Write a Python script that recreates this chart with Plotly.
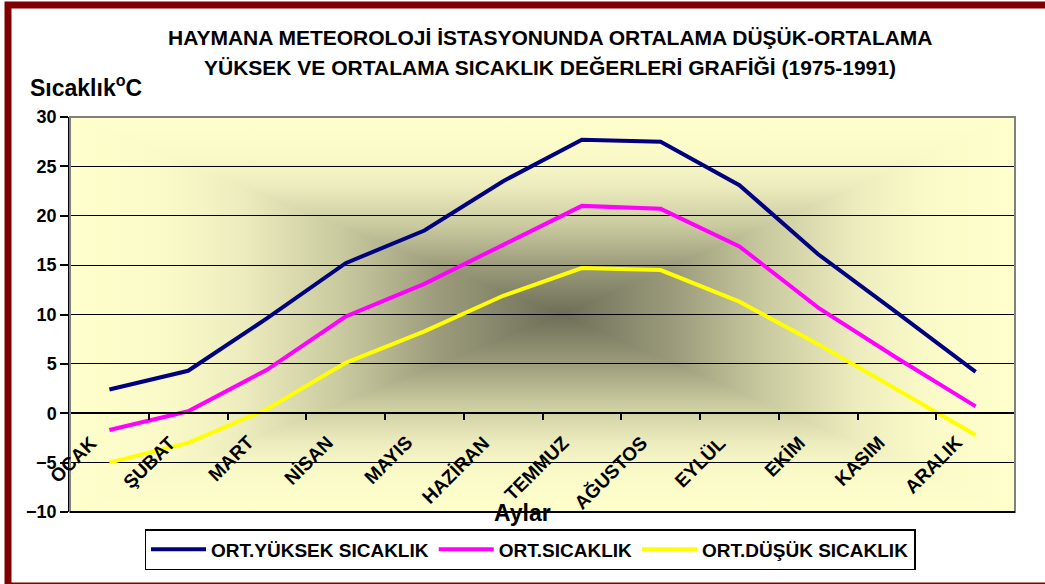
import base64
import plotly.graph_objects as go

# ---- data ----
months = ["OCAK", "ŞUBAT", "MART", "NİSAN", "MAYIS", "HAZİRAN",
          "TEMMUZ", "AĞUSTOS", "EYLÜL", "EKİM", "KASIM", "ARALIK"]
ort_yuksek = [2.4, 4.3, 9.6, 15.2, 18.5, 23.5, 27.7, 27.5, 23.1, 16.1, 10.2, 4.2]
ort_sicaklik = [-1.7, 0.2, 4.4, 9.8, 13.1, 17.1, 21.0, 20.7, 16.9, 10.7, 5.6, 0.7]
ort_dusuk = [-5.0, -3.0, 0.4, 5.1, 8.3, 11.9, 14.7, 14.5, 11.3, 7.0, 2.4, -2.2]
series_names = ["ORT.YÜKSEK SICAKLIK", "ORT.SICAKLIK", "ORT.DÜŞÜK SICAKLIK"]
series_colors = ["#000080", "#FF00FF", "#FFFF00"]
y_ticks = [-10, -5, 0, 5, 10, 15, 20, 25, 30]

W, H = 1045, 584
ML, MR, MT, MB = 70, 30, 117, 72
PW, PH = W - ML - MR, H - MT - MB


def px_x(px):
    return (px - ML) / PW


def px_y(py):
    return (H - MB - py) / PH


FONT = "Liberation Sans, Arial, sans-serif"

# ---- rectangular "from centre" gradient for the plot background (SVG) ----
cx, cy = 520, 500
stops = [(0, "#ffffcc"), (0.2, "#fafac8"), (0.35, "#ececbe"),
         (0.55, "#cacaa0"), (0.75, "#9c9c7c"), (1, "#6e6e58")]
stop_xml = "".join(f'<stop offset="{o}" stop-color="{c}"/>' for o, c in stops)
svg = (
    '<svg xmlns="http://www.w3.org/2000/svg" width="1000" height="1000" '
    'viewBox="0 0 1000 1000" preserveAspectRatio="none">'
    '<defs>'
    f'<linearGradient id="gt" gradientUnits="userSpaceOnUse" x1="0" y1="0" x2="0" y2="{cy}">{stop_xml}</linearGradient>'
    f'<linearGradient id="gb" gradientUnits="userSpaceOnUse" x1="0" y1="1000" x2="0" y2="{cy}">{stop_xml}</linearGradient>'
    f'<linearGradient id="gl" gradientUnits="userSpaceOnUse" x1="0" y1="0" x2="{cx}" y2="0">{stop_xml}</linearGradient>'
    f'<linearGradient id="gr" gradientUnits="userSpaceOnUse" x1="1000" y1="0" x2="{cx}" y2="0">{stop_xml}</linearGradient>'
    '</defs>'
    f'<rect x="0" y="0" width="{cx}" height="1000" fill="url(#gl)"/>'
    f'<rect x="{cx}" y="0" width="{1000 - cx}" height="1000" fill="url(#gr)"/>'
    f'<polygon points="0,0 1000,0 {cx},{cy}" fill="url(#gt)"/>'
    f'<polygon points="0,1000 1000,1000 {cx},{cy}" fill="url(#gb)"/>'
    '</svg>'
)
bg_uri = "data:image/svg+xml;base64," + base64.b64encode(svg.encode()).decode()

fig = go.Figure()
for name, vals, col in zip(series_names, [ort_yuksek, ort_sicaklik, ort_dusuk], series_colors):
    fig.add_trace(go.Scatter(x=months, y=vals, mode="lines", name=name,
                             line=dict(color=col, width=4)))

fig.update_layout(
    width=W, height=H,
    margin=dict(l=ML, r=MR, t=MT, b=MB, pad=0, autoexpand=False),
    paper_bgcolor="white",
    plot_bgcolor="rgba(0,0,0,0)",
    font=dict(family=FONT, color="black"),
    showlegend=True,
    legend=dict(orientation="h", x=px_x(530), xanchor="center",
                y=px_y(529), yanchor="top",
                bgcolor="white", bordercolor="black", borderwidth=1.5,
                font=dict(family=FONT, size=19, color="black", weight="bold"),
                itemwidth=55, tracegroupgap=0),
    images=[dict(source=bg_uri, xref="paper", yref="paper", x=0, y=1,
                 sizex=1, sizey=1, sizing="stretch", layer="below",
                 xanchor="left", yanchor="top")],
)

fig.update_xaxes(
    type="category", categoryorder="array", categoryarray=months,
    range=[-0.5, len(months) - 0.5],
    anchor="free", position=0.25, automargin=False,
    showline=True, linecolor="black", linewidth=1.5,
    ticks="outside", tickson="boundaries", ticklen=6, tickcolor="black", tickwidth=1.5,
    showticklabels=False,
    showgrid=False, zeroline=False,
)
fig.update_yaxes(
    range=[-10, 30], tickvals=y_ticks, automargin=False,
    showgrid=True, gridcolor="black", gridwidth=1.3,
    zeroline=False,
    showline=True, linecolor="black", linewidth=1.5,
    ticks="outside", ticklen=8, tickcolor="black", tickwidth=1.5,
    tickfont=dict(family=FONT, size=18, color="black", weight="bold"),
)

shapes = [
    # plot-area frame (grey top/right), black bottom
    dict(type="rect", xref="paper", yref="paper", x0=0, x1=1, y0=0, y1=1,
         line=dict(color="#808080", width=2), fillcolor="rgba(0,0,0,0)", layer="above"),
    dict(type="line", xref="paper", yref="paper", x0=0, x1=1, y0=0, y1=0,
         line=dict(color="black", width=2), layer="above"),
    # outer dark red border
    dict(type="rect", xref="paper", yref="paper",
         x0=px_x(8), x1=px_x(1065), y0=px_y(586), y1=px_y(5),
         line=dict(color="#800000", width=7), fillcolor="rgba(0,0,0,0)", layer="above"),
]
fig.update_layout(shapes=shapes)

annotations = [
    dict(text="HAYMANA METEOROLOJİ İSTASYONUNDA ORTALAMA DÜŞÜK-ORTALAMA",
         xref="paper", yref="paper", x=px_x(550), y=px_y(37),
         xanchor="center", yanchor="middle", showarrow=False,
         font=dict(family=FONT, size=21, color="black", weight="bold")),
    dict(text="YÜKSEK VE ORTALAMA SICAKLIK DEĞERLERİ GRAFİĞİ (1975-1991)",
         xref="paper", yref="paper", x=px_x(550), y=px_y(67),
         xanchor="center", yanchor="middle", showarrow=False,
         font=dict(family=FONT, size=21, color="black", weight="bold")),
    dict(text="Sıcaklık<sup>o</sup>C",
         xref="paper", yref="paper", x=px_x(28), y=px_y(86),
         xanchor="left", yanchor="middle", showarrow=False,
         font=dict(family=FONT, size=23, color="black", weight="bold")),
    dict(text="Aylar",
         xref="paper", yref="paper", x=px_x(522), y=px_y(513),
         xanchor="center", yanchor="middle", showarrow=False,
         font=dict(family=FONT, size=23, color="black", weight="bold")),
]
# category labels, rotated, hanging below the zero line
for m in months:
    annotations.append(dict(
        text=m, xref="x", yref="y", x=m, y=0,
        xanchor="right", yanchor="top", textangle=-45,
        xshift=-6, yshift=-16, showarrow=False,
        font=dict(family=FONT, size=19, color="black", weight="bold")))
fig.update_layout(annotations=annotations)

fig.write_html("out.html", config={"displayModeBar": False},
               post_script="document.body.style.margin='0px';")
